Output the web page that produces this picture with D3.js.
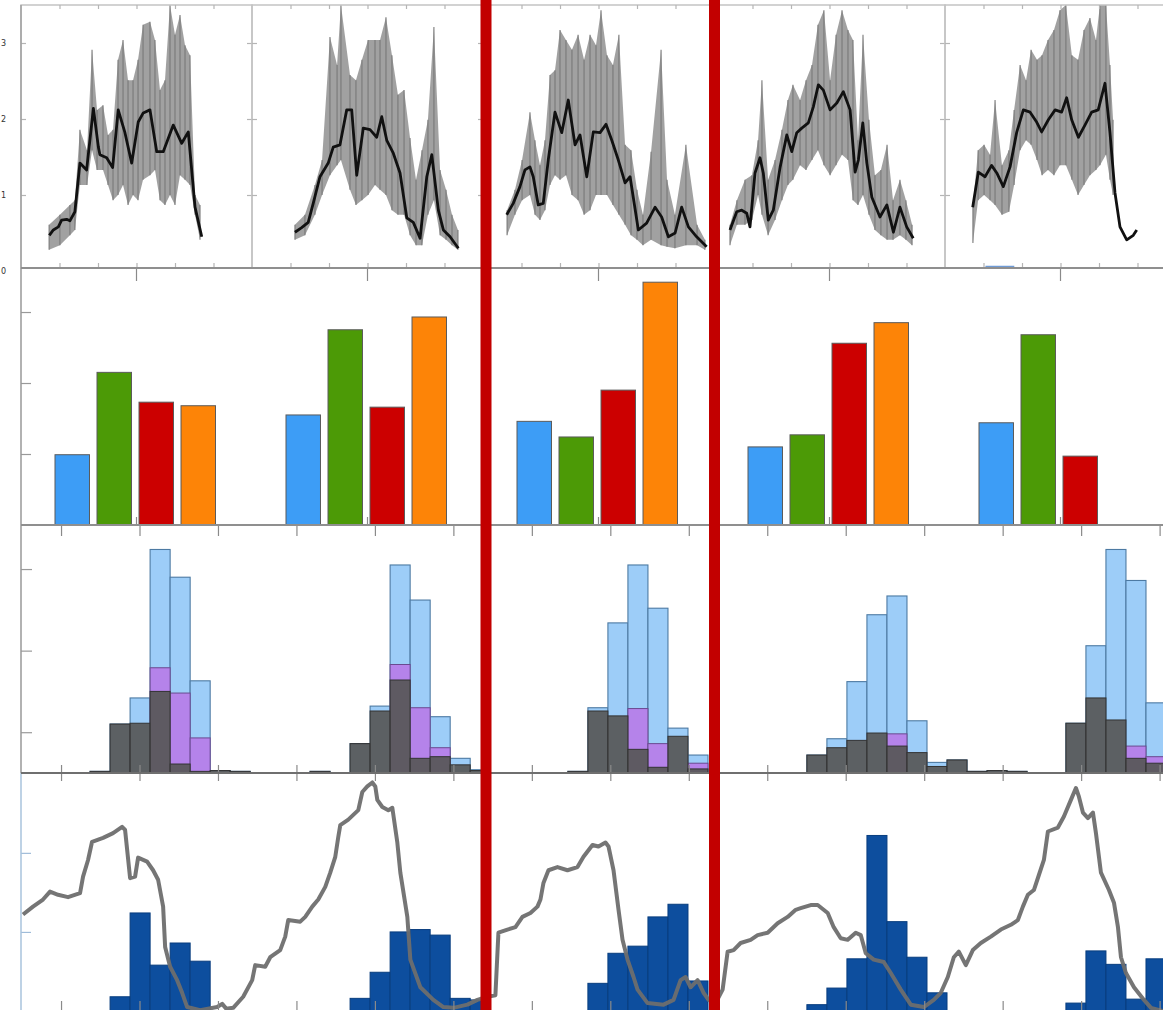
<!DOCTYPE html>
<html><head><meta charset="utf-8">
<script src="https://cdn.jsdelivr.net/npm/d3@7/dist/d3.min.js"></script>
<style>html,body{margin:0;padding:0;background:#fff;overflow:hidden}svg{display:block;font-family:"DejaVu Sans",sans-serif}</style>
</head><body>
<svg id="fig" width="1163" height="1010"></svg>
<script>
// ---------- sites (columns) ----------
const sites = ["A", "B", "C", "D", "E"];
const highlightSite = "C";

// ---------- row 1: daily series (time in days, values scaled) ----------
const meanTime = [
  [7.35,8.4,9.7,10.55,11.85,12.7,14.0,15.3,17.05,18.8,20.1,20.5,22.25,23.8,25.25,27.0,28.75,30.45,31.75,33.5,35.25,36.95,39.55,41.75,43.45,45.2,46.95],
  [11.15,12.9,14.6,15.9,17.65,19.8,21.1,22.85,24.6,25.9,27.2,28.9,30.65,32.4,33.7,35.0,36.7,38.45,40.2,41.9,43.65,45.4,46.7,48.4,49.7,51.45,53.6],
  [6.15,7.85,9.6,10.9,12.2,13.05,14.35,15.65,16.95,18.7,20.45,22.15,23.9,25.2,26.95,28.65,30.4,31.95,33.45,35.15,36.9,38.2,40.35,42.5,44.7,46.4,48.15,49.9,51.6,53.35,55.5,58.1],
  [4.15,5.9,7.2,8.5,9.35,10.65,11.95,12.8,14.1,15.4,17.15,18.9,20.2,21.5,22.8,24.5,25.8,27.1,28.4,30.15,31.9,33.6,35.35,36.65,37.5,38.65,39.7,41.0,43.1,44.9,46.6,48.3,50.05,51.75],
  [7.2,8.65,10.4,12.1,13.45,15.15,16.9,18.6,20.35,22.1,23.8,25.1,26.85,28.6,30.3,31.6,32.9,34.65,36.35,38.1,39.8,41.55,42.85,44.15,45.45,47.2,48.9,49.8]
];
const meanValue = [
  [0.47,0.54,0.58,0.67,0.68,0.66,0.78,1.42,1.33,2.14,1.63,1.53,1.49,1.36,2.12,1.82,1.42,1.96,2.08,2.12,1.57,1.57,1.92,1.68,1.83,0.84,0.45],
  [0.51,0.57,0.64,0.89,1.24,1.42,1.63,1.66,2.12,2.12,1.26,1.88,1.86,1.76,2.03,1.72,1.55,1.29,0.70,0.64,0.43,1.24,1.53,0.80,0.54,0.45,0.30],
  [0.74,0.89,1.11,1.33,1.37,1.24,0.87,0.89,1.46,2.09,1.82,2.25,1.66,1.79,1.24,1.83,1.82,1.93,1.72,1.46,1.16,1.24,0.54,0.63,0.84,0.71,0.45,0.50,0.84,0.58,0.45,0.32],
  [0.54,0.78,0.80,0.76,0.58,1.29,1.49,1.29,0.67,0.80,1.36,1.79,1.57,1.82,1.88,1.95,2.16,2.45,2.38,2.12,2.21,2.36,2.12,1.30,1.46,1.95,1.42,0.97,0.71,0.87,0.51,0.84,0.58,0.43],
  [0.84,1.30,1.24,1.39,1.29,1.11,1.37,1.82,2.12,2.09,1.96,1.83,1.99,2.12,2.09,2.28,1.99,1.76,1.92,2.09,2.12,2.47,1.82,1.03,0.58,0.41,0.47,0.54]
];
// hourly spread: sample time, low and high
const spreadTime = [
  [7.3,10.1,12.7,14.0,15.3,17.15,18.45,19.75,21.3,22.6,23.9,25.2,26.5,27.8,29.1,30.4,31.7,33.5,34.8,36.1,37.4,38.7,40.0,41.3,42.6,43.9,45.2,46.5],
  [11.15,13.75,16.35,18.2,20.25,22.1,23.1,25.45,27.0,28.55,30.15,31.95,33.25,34.8,36.35,37.9,39.5,41.05,42.6,44.15,45.7,47.25,48.85,50.4,51.95,53.5],
  [6.25,8.3,10.15,12.2,13.5,14.8,16.1,17.4,18.7,20.0,21.55,23.1,24.7,26.25,27.8,29.35,30.65,32.2,33.75,35.3,36.9,38.45,40.0,41.55,43.65,46.25,47.8,49.85,52.7,55.6,57.65],
  [4.15,5.95,8.05,9.85,11.45,12.45,14.05,15.85,17.65,19.2,20.5,22.35,23.9,25.45,27.0,28.55,30.15,31.7,33.25,34.8,36.1,37.4,38.7,40.25,41.8,43.35,44.95,46.5,48.3,49.85,51.45],
  [7.25,8.6,10.15,11.7,13.0,14.8,16.6,17.95,19.5,21.05,22.35,23.9,25.2,26.75,28.3,29.85,31.4,32.95,34.55,36.1,37.65,39.2,40.25,41.8,42.85,43.65]
];
const spreadLow = [
  [0.28,0.34,0.47,0.54,1.13,1.13,1.59,1.33,1.33,1.13,0.93,1.0,1.13,0.87,1.0,0.93,1.2,1.26,1.33,0.93,0.87,1.0,0.87,1.26,1.2,1.13,0.74,0.41],
  [0.41,0.47,0.74,1.0,1.26,1.39,1.46,1.07,0.87,0.93,1.0,1.13,1.07,1.0,0.8,0.74,0.74,0.47,0.34,0.34,0.74,0.93,0.47,0.41,0.34,0.28],
  [0.47,0.74,0.93,1.0,0.74,0.67,0.8,1.13,1.26,1.2,1.26,1.0,0.93,0.74,0.8,1.0,1.0,1.0,0.87,0.74,0.61,0.47,0.41,0.34,0.41,0.34,0.32,0.3,0.34,0.34,0.28],
  [0.34,0.61,0.61,0.67,1.0,0.74,0.47,0.67,0.93,1.13,1.2,1.39,1.33,1.46,1.59,1.39,1.26,1.39,1.53,1.46,0.93,0.87,1.0,0.74,0.54,0.47,0.41,0.41,0.47,0.41,0.34],
  [0.37,0.93,1.0,0.93,0.87,0.74,0.78,1.13,1.59,1.72,1.66,1.46,1.26,1.33,1.26,1.39,1.39,1.2,1.0,1.13,1.26,1.33,1.39,1.53,1.2,1.0]
];
const spreadHigh = [
  [0.61,0.74,0.87,0.93,1.86,1.59,2.91,2.12,2.18,1.79,1.86,2.78,3.04,2.51,2.51,2.78,3.24,3.28,3.04,2.38,2.51,3.5,3.11,3.37,2.97,2.84,1.0,0.87],
  [0.61,0.74,1.13,1.46,3.08,2.71,3.5,2.58,2.51,2.78,3.04,3.04,3.04,3.34,2.84,2.32,2.38,1.75,1.2,1.59,1.99,3.21,1.33,1.07,0.74,0.54],
  [0.8,1.07,1.46,2.09,1.72,1.39,1.72,2.58,2.64,3.17,3.04,2.91,3.11,2.78,3.11,2.97,3.43,2.84,2.71,3.11,1.66,1.59,1.07,0.74,1.57,2.91,1.2,0.74,1.66,0.61,0.41],
  [0.61,0.93,1.2,1.26,1.72,2.51,1.2,1.46,1.86,2.25,2.45,2.25,2.51,2.71,3.24,3.43,2.51,3.11,3.43,3.17,3.04,1.72,3.11,1.99,1.26,1.33,1.66,0.93,1.2,0.93,0.61],
  [0.87,1.59,1.66,1.53,2.25,1.39,1.59,2.12,2.71,2.51,2.91,2.78,2.84,3.04,3.17,3.43,3.5,2.84,2.78,3.17,3.33,3.04,3.5,3.5,2.71,1.99]
];

// ---------- row 2: four metrics per site ----------
const metrics = ["M1", "M2", "M3", "M4"];
const metricColors = ["#3d9df6", "#4c9a06", "#cc0000", "#fd8407"];
const metricValues = [
  [0.99, 2.15, 1.73, 1.68],
  [1.55, 2.75, 1.66, 2.93],
  [1.46, 1.24, 1.90, 3.42],
  [1.10, 1.27, 2.56, 2.85],
  [1.44, 2.68, 0.97, null]
];

// ---------- row 3: weekly distributions (first bin, then one value per week) ----------
const binStart = [3.4, 14.39, 27.27, 39.21, 52.15];
const distTotal = [
  [0.02,0.6,0.92,2.74,2.4,1.13,0.03,0.02],
  [0.02,0,0.36,0.82,2.55,2.12,0.69,0.18,0.04],
  [0.02,0.8,1.84,2.55,2.02,0.55,0.22],
  [0.22,0.42,1.12,1.94,2.17,0.64,0.13,0.16,0.02,0.03,0.02],
  [0.61,1.56,2.74,2.36,0.86]
];
const distMid = [
  [0,0,0,1.29,0.98,0.43,0,0],
  [0,0,0,0,1.33,0.8,0.31,0,0],
  [0,0,0,0.79,0.36,0,0.12],
  [0,0,0,0,0.48,0,0,0,0,0,0],
  [0,0,0,0.33,0.2]
];
const distLow = [
  [0.02,0.6,0.61,1.0,0.11,0.02,0.03,0.02],
  [0.02,0,0.36,0.76,1.14,0.18,0.2,0.1,0.03],
  [0.02,0.76,0.7,0.29,0.07,0.45,0.05],
  [0.22,0.31,0.4,0.49,0.33,0.25,0.08,0.16,0.02,0.03,0.02],
  [0.61,0.92,0.65,0.18,0.12]
];

// ---------- row 4: weekly counts and running level ----------
const weekCounts = [
  [0,0.18,1.24,0.58,0.86,0.63,0,0],
  [0,0,0.16,0.49,1.0,1.03,0.96,0.16,0.14],
  [0,0.35,0.73,0.82,1.19,1.35,0.38],
  [0.08,0.29,0.66,2.22,1.13,0.68,0.23],
  [0.1,0.76,0.59,0.15,0.66]
];
const levelWeek = [0.05,0.55,1.05,1.4,1.8,2.3,2.9,3.05,3.3,3.5,4.05,4.55,5.0,5.15,5.4,5.65,5.8,6.25,6.55,6.8,7.05,7.15,7.4,7.75,8.0,8.25,8.9,9.75,10.0,10.2,10.55,11.05,11.5,11.65,12.15,12.4,12.9,13.15,13.3,13.9,14.15,14.5,14.8,15.15,15.4,15.65,15.8,15.9,16.3,16.55,16.8,17.0,17.25,17.5,17.65,17.75,18.0,18.3,18.5,18.75,18.9,19.25,19.4,19.9,20.55,21.05,21.55,22.25,22.75,23.25,23.65,23.8,24.25,24.65,25.0,25.4,25.75,25.9,26.05,26.3,26.75,27.25,27.75,28.05,28.5,28.8,29.15,29.3,29.55,29.8,30.0,30.25,30.55,30.75,31.25,32.05,32.55,32.9,33.15,33.4,33.75,34.05,34.3,34.65,35.0,35.25,35.55,35.9,36.4,36.75,37.25,37.75,38.25,38.65,38.9,39.4,39.75,40.25,40.55,40.9,41.25,41.65,41.9,42.15,42.55,43.05,43.4,43.9,44.4,45.05,45.55,45.9,46.25,46.55,46.8,47.15,47.5,47.9,48.4,48.9,49.4,49.75,50.0,50.25,50.55,50.8,51.05,51.25,51.75,52.05,52.4,52.65,52.8,53.0,53.25,53.5,53.65,53.9,54.3,54.55,54.75,54.9,55.15,55.55,56.05,56.4,57.0];
const levelValue = [1.22,1.32,1.41,1.51,1.47,1.44,1.49,1.70,1.91,2.14,2.19,2.25,2.33,2.29,1.68,1.70,1.94,1.89,1.78,1.66,1.32,0.81,0.56,0.39,0.23,0.05,0.01,0.05,0.09,0.03,0.04,0.18,0.39,0.58,0.56,0.68,0.77,0.94,1.15,1.13,1.19,1.32,1.41,1.57,1.75,1.95,2.20,2.35,2.42,2.48,2.54,2.77,2.84,2.89,2.84,2.67,2.58,2.54,2.57,2.13,1.75,1.19,0.65,0.30,0.14,0.05,0.04,0.08,0.14,0.18,0.20,0.99,1.03,1.06,1.19,1.24,1.32,1.41,1.62,1.78,1.82,1.78,1.82,1.95,2.10,2.08,2.13,2.08,1.78,1.28,0.90,0.65,0.43,0.27,0.10,0.08,0.14,0.39,0.43,0.30,0.39,0.23,0.14,0.10,0.27,0.75,0.77,0.86,0.90,0.96,0.99,1.11,1.19,1.28,1.30,1.34,1.34,1.24,1.06,0.92,0.90,0.99,0.96,0.73,0.65,0.62,0.48,0.27,0.08,0.05,0.14,0.23,0.43,0.68,0.75,0.58,0.77,0.86,0.94,1.03,1.09,1.15,1.32,1.47,1.53,1.72,1.91,2.27,2.32,2.46,2.67,2.82,2.71,2.51,2.44,2.51,2.25,1.75,1.53,1.37,1.06,0.68,0.48,0.30,0.14,0.04,0.0];

// ---------- layout ----------
const svg = d3.select("#fig");
const W = 1163, H = 1010;
const rowEdges = [5, 268, 525, 773, 1011];

// site columns share one band scale across all rows
const siteBand = d3.scaleBand().domain(sites).range([21, 1176]);
const bw = siteBand.bandwidth();

function cleanAxis(g, color) {
  g.select(".domain").remove();
  g.selectAll(".tick line").attr("stroke", color).attr("stroke-width", 1.2);
  g.selectAll(".tick text").remove();
}

// ================= row 1 =================
const y1 = d3.scaleLinear().domain([0, 3.5]).range([271, 5]);
const row1 = svg.append("g");
sites.forEach((s, i) => {
  const x0 = siteBand(s);
  const xt = d3.scaleLinear().domain([0, 60]).range([x0, x0 + bw]);
  const g = row1.append("g");
  const spread = spreadTime[i].map((t, k) => ({t, lo: spreadLow[i][k], hi: spreadHigh[i][k]}));
  // hourly spread: filled envelope with a vertical stroke per sample
  g.append("path").datum(spread)
    .attr("d", d3.area().x(d => xt(d.t)).y0(d => y1(d.lo)).y1(d => y1(d.hi)))
    .attr("fill", "#8c8c8c").attr("opacity", 0.82);
  g.selectAll("line.sp").data(spread).join("line")
    .attr("x1", d => xt(d.t)).attr("x2", d => xt(d.t))
    .attr("y1", d => y1(d.lo)).attr("y2", d => y1(d.hi))
    .attr("stroke", "#777").attr("stroke-width", 1.3).attr("opacity", 0.8);
  const mean = meanTime[i].map((t, k) => [t, meanValue[i][k]]);
  g.append("path").datum(mean)
    .attr("d", d3.line().x(d => xt(d[0])).y(d => y1(d[1])))
    .attr("fill", "none").attr("stroke", "#111").attr("stroke-width", 2.8)
    .attr("stroke-linejoin", "round");
  // frame and ticks
  g.append("rect").attr("x", x0).attr("y", rowEdges[0]).attr("width", bw).attr("height", rowEdges[1] - rowEdges[0])
    .attr("fill", "none").attr("stroke", "#c4c4c4").attr("stroke-width", 1.5);
  const tv = [10, 20, 30, 40, 50];
  g.append("g").attr("transform", `translate(0,${rowEdges[0]})`)
    .call(d3.axisTop(xt).tickValues(tv).tickSize(-4)).call(a => cleanAxis(a, "#b5b5b5"));
  g.append("g").attr("transform", `translate(0,${rowEdges[1]})`)
    .call(d3.axisBottom(xt).tickValues(tv).tickSize(-5)).call(a => cleanAxis(a, "#b5b5b5"));
  g.append("g").attr("transform", `translate(${x0},0)`)
    .call(d3.axisLeft(y1).tickValues([1, 2, 3]).tickSize(-5)).call(a => cleanAxis(a, "#b5b5b5"));
  g.append("g").attr("transform", `translate(${x0 + bw},0)`)
    .call(d3.axisRight(y1).tickValues([1, 2, 3]).tickSize(-5)).call(a => cleanAxis(a, "#b5b5b5"));
});
// y labels squeezed into the left margin
row1.selectAll("text.yl").data([0, 1, 2, 3]).join("text")
  .attr("class", "yl")
  .attr("x", 1).attr("y", d => y1(d) + 3).attr("text-anchor", "start")
  .attr("font-size", 8).attr("fill", "#333").text(d => d);
row1.append("line").attr("x1", 21).attr("x2", 21).attr("y1", rowEdges[0]).attr("y2", rowEdges[1])
  .attr("stroke", "#a0a0a0").attr("stroke-width", 1.5);
// short blue marker on the axis under site E
{
  const x0 = siteBand("E");
  const xt = d3.scaleLinear().domain([0, 60]).range([x0, x0 + bw]);
  row1.append("line").attr("x1", xt(10.5)).attr("x2", xt(18)).attr("y1", rowEdges[1] - 1).attr("y2", rowEdges[1] - 1)
    .attr("stroke", "#6f9bd6").attr("stroke-width", 2.5);
}

// ================= row 2 =================
const y2 = d3.scaleLinear().domain([0, 3.62]).range([rowEdges[2], rowEdges[1]]);
const inner = d3.scaleBand().domain(metrics).range([34, 194.5]).paddingInner(0.179);
const row2 = svg.append("g");
sites.forEach((s, i) => {
  metrics.forEach((m, j) => {
    const v = metricValues[i][j];
    if (v == null) return;
    row2.append("rect")
      .attr("x", siteBand(s) + inner(m)).attr("width", inner.bandwidth())
      .attr("y", y2(v)).attr("height", y2(0) - y2(v))
      .attr("fill", metricColors[j]).attr("stroke", "#5b5b5b").attr("stroke-width", 1);
  });
});
row2.append("g").attr("transform", `translate(21,0)`)
  .call(d3.axisLeft(y2).tickValues([1, 2, 3]).tickSize(-10)).call(a => cleanAxis(a, "#999"));
row2.append("g").attr("transform", `translate(0,${rowEdges[1]})`)
  .call(d3.axisTop(siteBand).tickSize(-13)).call(a => cleanAxis(a, "#8a8a8a"));
row2.append("g").attr("transform", `translate(0,${rowEdges[2]})`)
  .call(d3.axisBottom(siteBand).tickSize(-8)).call(a => cleanAxis(a, "#8a8a8a"));
row2.append("line").attr("x1", 21).attr("x2", 21).attr("y1", rowEdges[1]).attr("y2", rowEdges[2])
  .attr("stroke", "#999").attr("stroke-width", 1.5);

// ================= rows 3 & 4 share a weekly axis =================
const xw = d3.scaleLinear().domain([0, 57]).range([22, 1163]);
const weekTicks = d3.range(15).map(i => 1.95 + i * 3.92);

// row 3: overlaid distributions
const y3 = d3.scaleLinear().domain([0, 3.04]).range([rowEdges[3], rowEdges[2]]);
const row3 = svg.append("g");
function binRects(g, start, vals, fill, stroke, sw, op, y, base) {
  g.selectAll(null).data(vals.map((v, k) => ({v, k})).filter(d => d.v > 0)).join("rect")
    .attr("x", d => xw(start + d.k)).attr("width", d => xw(start + d.k + 1) - xw(start + d.k))
    .attr("y", d => y(d.v)).attr("height", d => base - y(d.v))
    .attr("fill", fill).attr("stroke", stroke).attr("stroke-width", sw).attr("fill-opacity", op);
}
sites.forEach((s, i) => {
  const g = row3.append("g");
  binRects(g, binStart[i], distTotal[i], "#9dcdf8", "#4d7aa3", 1.1, 1, y3, rowEdges[3]);
  binRects(g, binStart[i], distMid[i], "#b583ea", "#6a4a90", 1, 1, y3, rowEdges[3]);
  binRects(g, binStart[i], distLow[i], "#575757", "#333333", 1, 0.93, y3, rowEdges[3]);
});
row3.append("g").attr("transform", `translate(21,0)`)
  .call(d3.axisLeft(y3).tickValues([0.5, 1.5, 2.5]).tickSize(-11)).call(a => cleanAxis(a, "#9a9a9a"));
row3.append("g").attr("transform", `translate(0,${rowEdges[2]})`)
  .call(d3.axisTop(xw).tickValues(weekTicks).tickSize(-11)).call(a => cleanAxis(a, "#8a8a8a"));
row3.append("g").attr("transform", `translate(0,${rowEdges[3]})`)
  .call(d3.axisBottom(xw).tickValues(weekTicks).tickSize(-8)).call(a => cleanAxis(a, "#8a8a8a"));
row3.append("line").attr("x1", 21).attr("x2", 21).attr("y1", rowEdges[2]).attr("y2", rowEdges[3])
  .attr("stroke", "#999").attr("stroke-width", 1.5);

// row 4: weekly counts with running level
const y4 = d3.scaleLinear().domain([0, 3.01]).range([rowEdges[4], rowEdges[3]]);
const row4 = svg.append("g");
sites.forEach((s, i) => {
  const g = row4.append("g");
  binRects(g, binStart[i], weekCounts[i], "#0d4e9e", "#083d7e", 1, 1, y4, rowEdges[4]);
});
row4.append("path").datum(levelWeek.map((w, k) => [w, levelValue[k]]))
  .attr("d", d3.line().x(d => xw(d[0])).y(d => y4(d[1])))
  .attr("fill", "none").attr("stroke", "#6e6e6e").attr("stroke-width", 4)
  .attr("stroke-linejoin", "round").attr("opacity", 0.95);
row4.append("g").attr("transform", `translate(21,0)`)
  .call(d3.axisLeft(y4).tickValues([1, 2]).tickSize(-10)).call(a => cleanAxis(a, "#9fbcd9"));
row4.append("g").attr("transform", `translate(0,${rowEdges[3]})`)
  .call(d3.axisTop(xw).tickValues(weekTicks).tickSize(-8)).call(a => cleanAxis(a, "#8a8a8a"));
row4.append("g").attr("transform", `translate(0,${rowEdges[4]})`)
  .call(d3.axisBottom(xw).tickValues(weekTicks).tickSize(-10)).call(a => cleanAxis(a, "#8a8a8a"));
row4.append("line").attr("x1", 21).attr("x2", 21).attr("y1", rowEdges[3]).attr("y2", rowEdges[4])
  .attr("stroke", "#a9c3dd").attr("stroke-width", 1.5);

// row separators
svg.append("g").selectAll("line").data([1, 2, 3]).join("line")
  .attr("x1", 21).attr("x2", W).attr("y1", i => rowEdges[i]).attr("y2", i => rowEdges[i])
  .attr("stroke", i => i === 3 ? "#6f6f6f" : "#8f8f8f").attr("stroke-width", 2);

// highlighted site column
const hx = siteBand(highlightSite);
svg.append("g").selectAll("line").data([hx + 3, hx + bw + 0.5]).join("line")
  .attr("x1", d => d).attr("x2", d => d).attr("y1", 0).attr("y2", H)
  .attr("stroke", "#c20000").attr("stroke-width", 11);
</script>
</body></html>
